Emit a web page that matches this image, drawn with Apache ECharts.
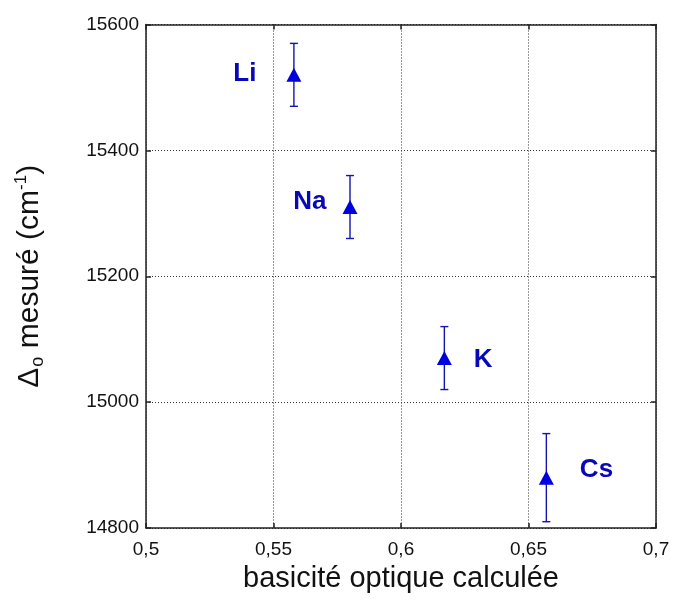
<!DOCTYPE html>
<html>
<head>
<meta charset="utf-8">
<script src="https://cdn.jsdelivr.net/npm/echarts@6/dist/echarts.min.js"></script>
<style>html,body{margin:0;padding:0;background:#fff}#c{width:673px;height:599px}</style>
</head>
<body>
<div id="c"></div>
<script>
// ---- data ----
const names = ['Li', 'Na', 'K', 'Cs'];
const basicity = [0.558, 0.580, 0.617, 0.657];
const delta0 = [15520, 15310, 15070, 14880];
const errors = [50, 50, 50, 70];
const xTicks = [0.5, 0.55, 0.6, 0.65, 0.7];
const yTicks = [14800, 15000, 15200, 15400, 15600];

// ---- chart ----
const chart = echarts.init(document.getElementById('c'), null, {renderer: 'canvas'});
// label placement (style only)
const labelStyle = {
  Li: {position: 'left', distance: 30, offset: [0, -1]},
  Na: {position: 'left', distance: 16, offset: [0, -5]},
  K:  {position: 'right', distance: 22, offset: [0, 2]},
  Cs: {position: 'right', distance: 26, offset: [0, -8]}
};
const font = 'Liberation Sans, Arial, sans-serif';
const markerColor = '#0000dd';
const textColor = '#0808b8';

const scatterData = names.map((n, i) => ({
  name: n,
  value: [basicity[i], delta0[i]],
  label: labelStyle[n]
}));
const errData = names.map((n, i) => [basicity[i], delta0[i], delta0[i] - errors[i], delta0[i] + errors[i]]);

const axisCommon = {
  axisLine: {show: true, lineStyle: {color: '#222', width: 1.5}},
  axisTick: {show: true, inside: true, length: 5, lineStyle: {color: '#222', width: 1.5}},
};

const option = {
  animation: false,
  backgroundColor: '#fff',
  grid: {left: 146, right: 17, top: 24.5, bottom: 71, containLabel: false},
  xAxis: [
    Object.assign({
      type: 'value', min: xTicks[0], max: xTicks[xTicks.length - 1], interval: 0.05,
      position: 'bottom',
      name: 'basicité optique calculée', nameLocation: 'middle', nameGap: 36,
      nameTextStyle: {fontFamily: font, fontSize: 29, color: '#111'},
      axisLabel: {fontFamily: font, fontSize: 19, color: '#111', margin: 12,
        formatter: v => String(+v.toFixed(2)).replace('.', ',')},
      splitLine: {show: true, lineStyle: {type: [1, 2], color: '#333', width: 1}}
    }, axisCommon),
    Object.assign({
      type: 'value', min: xTicks[0], max: xTicks[xTicks.length - 1], interval: 0.05,
      position: 'top', axisLabel: {show: false}, splitLine: {show: false}
    }, axisCommon)
  ],
  yAxis: [
    Object.assign({
      type: 'value', min: yTicks[0], max: yTicks[yTicks.length - 1], interval: 200,
      position: 'left',
      name: '{a|Δ}{s|o}{a| mesuré (cm}{p|-1}{a|)}',
      nameLocation: 'middle', nameRotate: 90, nameGap: 99,
      nameTextStyle: {
        fontFamily: font, color: '#111',
        rich: {
          a: {fontFamily: font, fontSize: 30, color: '#111', lineHeight: 34},
          s: {fontFamily: font, fontSize: 18, color: '#111', lineHeight: 34, verticalAlign: 'bottom', padding: [14, 0, 0, 1]},
          p: {fontFamily: font, fontSize: 17, color: '#111', lineHeight: 34, verticalAlign: 'top', padding: [0, 0, 12, 0]}
        }
      },
      axisLabel: {fontFamily: font, fontSize: 19, color: '#111', margin: 7, formatter: v => String(v)},
      splitLine: {show: true, lineStyle: {type: [1, 2], color: '#333', width: 1}}
    }, axisCommon),
    Object.assign({
      type: 'value', min: yTicks[0], max: yTicks[yTicks.length - 1], interval: 200,
      position: 'right', axisLabel: {show: false}, splitLine: {show: false}
    }, axisCommon)
  ],
  series: [
    {
      type: 'custom',
      xAxisIndex: 0, yAxisIndex: 0,
      data: errData,
      renderItem: function (params, api) {
        const x = api.value(0);
        const top = api.coord([x, api.value(3)]);
        const bot = api.coord([x, api.value(2)]);
        const w = 4;
        const style = {stroke: '#1414b0', lineWidth: 1.4};
        return {
          type: 'group',
          children: [
            {type: 'line', shape: {x1: top[0], y1: top[1], x2: bot[0], y2: bot[1]}, style: style},
            {type: 'line', shape: {x1: top[0] - w, y1: top[1], x2: top[0] + w, y2: top[1]}, style: style},
            {type: 'line', shape: {x1: bot[0] - w, y1: bot[1], x2: bot[0] + w, y2: bot[1]}, style: style}
          ]
        };
      },
      z: 2
    },
    {
      type: 'scatter',
      xAxisIndex: 0, yAxisIndex: 0,
      symbol: 'triangle', symbolSize: [15, 14],
      itemStyle: {color: markerColor, opacity: 1},
      label: {show: true, formatter: p => p.name, fontFamily: font, fontWeight: 'bold', fontSize: 26, color: textColor},
      data: scatterData,
      z: 3
    }
  ]
};
chart.setOption(option);
</script>
</body>
</html>
